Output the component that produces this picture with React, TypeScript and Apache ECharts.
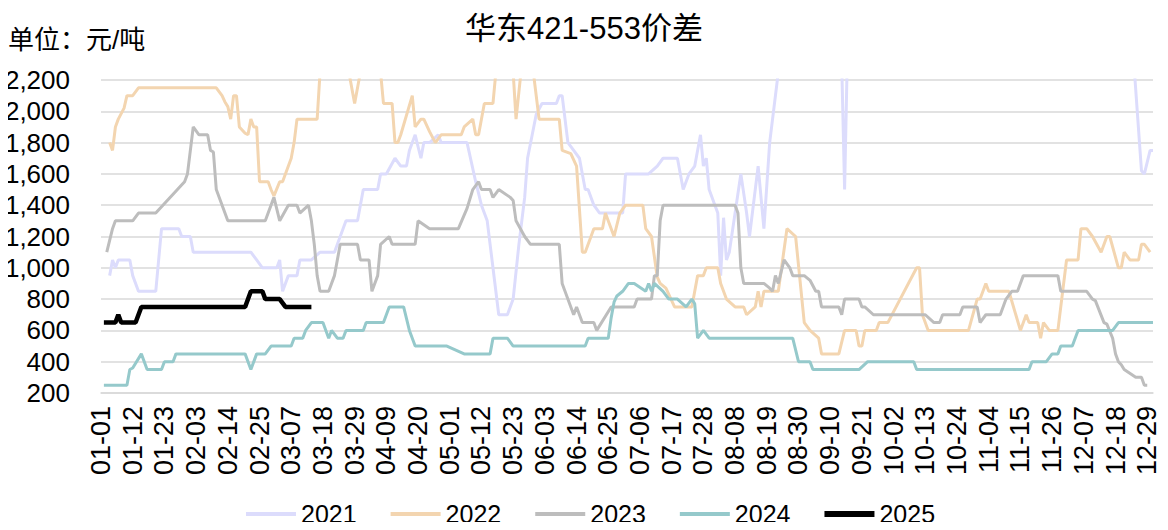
import React, { useEffect, useRef } from "react";
import * as echarts from "echarts";

const TITLE = "华东421-553价差";
const UNIT = "单位：元/吨";

// leap-year calendar of the x axis (labels MM-DD)
const monthDays = [31, 29, 31, 30, 31, 30, 31, 31, 30, 31, 30, 31];
const categories: string[] = [];
monthDays.forEach((n, m) => {
  for (let d = 1; d <= n; d++) {
    categories.push(`${String(m + 1).padStart(2, "0")}-${String(d).padStart(2, "0")}`);
  }
});

const yMin = 200;
const yMax = 2200;
const yStep = 200;

const seriesNames = ["2021", "2022", "2023", "2024", "2025"];

const s2021: [string, number][] = [
  ["01-04", 950], ["01-05", 1050], ["01-06", 1000], ["01-07", 1050], ["01-11", 1050], ["01-12", 950],
  ["01-14", 850], ["01-20", 850], ["01-22", 1250], ["01-28", 1250], ["01-29", 1200], ["02-01", 1200],
  ["02-02", 1100], ["02-22", 1100], ["02-24", 1050], ["02-26", 1000], ["03-02", 1000], ["03-03", 1050],
  ["03-04", 850], ["03-06", 950], ["03-09", 950], ["03-10", 1050], ["03-14", 1050], ["03-17", 1100],
  ["03-22", 1100], ["03-26", 1300], ["03-30", 1300], ["04-01", 1500], ["04-06", 1500], ["04-07", 1600],
  ["04-09", 1600], ["04-12", 1700], ["04-14", 1650], ["04-16", 1650], ["04-17", 1750], ["04-19", 1850],
  ["04-21", 1700], ["04-22", 1800], ["04-24", 1800], ["04-27", 1850], ["04-28", 1800], ["05-07", 1800],
  ["05-10", 1550], ["05-12", 1400], ["05-14", 1300], ["05-18", 700], ["05-21", 700], ["05-23", 800],
  ["05-25", 1150], ["05-27", 1450], ["05-28", 1700], ["05-31", 1980], ["06-02", 2050], ["06-07", 2050],
  ["06-08", 2100], ["06-09", 2100], ["06-11", 1800], ["06-13", 1750], ["06-15", 1700], ["06-17", 1500],
  ["06-18", 1500], ["06-20", 1400], ["06-22", 1350], ["06-30", 1350], ["07-01", 1600], ["07-09", 1600],
  ["07-12", 1650], ["07-14", 1700], ["07-19", 1700], ["07-21", 1500], ["07-23", 1600], ["07-25", 1650],
  ["07-27", 1850], ["07-28", 1650], ["07-29", 1700], ["07-30", 1500], ["08-01", 1400], ["08-02", 1350],
  ["08-03", 950], ["08-04", 1320], ["08-05", 1050], ["08-06", 1100], ["08-08", 1350], ["08-10", 1600],
  ["08-12", 1350], ["08-13", 1200], ["08-16", 1650], ["08-18", 1250], ["08-20", 1800], ["08-23", 2250],
  ["08-25", 2400], ["09-07", 2500], ["09-14", 2300], ["09-15", 1500], ["09-16", 2400], ["10-07", 2500],
  ["11-26", 2500], ["12-24", 2400], ["12-27", 1620], ["12-28", 1600], ["12-30", 1750], ["12-31", 1750],
];

const s2022: [string, number][] = [
  ["01-04", 1800], ["01-05", 1750], ["01-06", 1900], ["01-07", 1950], ["01-09", 2020], ["01-10", 2100],
  ["01-12", 2100], ["01-14", 2150], ["02-10", 2150], ["02-12", 2100], ["02-13", 2060], ["02-14", 2030],
  ["02-15", 1950], ["02-16", 2100], ["02-17", 2100], ["02-18", 1900], ["02-20", 1860], ["02-21", 1850],
  ["02-22", 1950], ["02-23", 1900], ["02-24", 1900], ["02-25", 1550], ["02-28", 1550], ["02-29", 1500],
  ["03-01", 1460], ["03-03", 1550], ["03-04", 1550], ["03-07", 1700], ["03-08", 1800], ["03-09", 1950],
  ["03-16", 1950], ["03-17", 2250], ["03-21", 2400], ["03-27", 2250], ["03-29", 2050], ["03-31", 2250],
  ["04-03", 2400], ["04-07", 2250], ["04-08", 2050], ["04-11", 2050], ["04-12", 1800], ["04-13", 1800],
  ["04-14", 1850], ["04-18", 2100], ["04-19", 1900], ["04-21", 1950], ["04-22", 1950], ["04-24", 1870],
  ["04-26", 1800], ["04-28", 1850], ["05-05", 1850], ["05-06", 1900], ["05-09", 1950], ["05-10", 1850],
  ["05-11", 1850], ["05-13", 2050], ["05-16", 2050], ["05-17", 2250], ["05-20", 2400], ["05-23", 2250],
  ["05-24", 1950], ["05-26", 2300], ["05-29", 2400], ["05-30", 2250], ["06-01", 1950], ["06-08", 1950],
  ["06-09", 1750], ["06-12", 1730], ["06-14", 1650], ["06-16", 1100], ["06-17", 1100], ["06-20", 1250],
  ["06-23", 1250], ["06-24", 1350], ["06-27", 1200], ["06-29", 1350], ["07-01", 1400], ["07-07", 1400],
  ["07-08", 1250], ["07-10", 1200], ["07-12", 940], ["07-13", 900], ["07-15", 870], ["07-18", 750],
  ["07-24", 750], ["07-26", 950], ["07-28", 950], ["07-29", 1000], ["08-02", 1000], ["08-03", 900],
  ["08-05", 800], ["08-08", 750], ["08-11", 750], ["08-12", 700], ["08-15", 750], ["08-16", 850],
  ["08-17", 750], ["08-18", 850], ["08-23", 850], ["08-26", 1250], ["08-29", 1200], ["09-01", 650],
  ["09-03", 600], ["09-06", 550], ["09-07", 450], ["09-13", 450], ["09-15", 600], ["09-19", 600],
  ["09-20", 500], ["09-21", 500], ["09-22", 600], ["09-26", 600], ["09-27", 650], ["09-30", 650],
  ["10-10", 1000], ["10-11", 1000], ["10-12", 700], ["10-14", 600], ["10-28", 600], ["10-31", 800],
  ["11-01", 800], ["11-03", 900], ["11-04", 850], ["11-11", 850], ["11-15", 600], ["11-17", 700],
  ["11-18", 650], ["11-21", 650], ["11-22", 550], ["11-23", 650], ["11-25", 600], ["11-28", 600],
  ["12-01", 1050], ["12-05", 1050], ["12-06", 1250], ["12-08", 1250], ["12-10", 1200], ["12-13", 1100],
  ["12-15", 1200], ["12-16", 1200], ["12-19", 1000], ["12-20", 1000], ["12-21", 1100], ["12-23", 1050],
  ["12-26", 1050], ["12-27", 1150], ["12-28", 1150], ["12-30", 1100],
];

const s2023: [string, number][] = [
  ["01-03", 1100], ["01-05", 1250], ["01-06", 1300], ["01-12", 1300], ["01-14", 1350], ["01-20", 1350],
  ["01-30", 1550], ["01-31", 1600], ["02-02", 1900], ["02-04", 1850], ["02-07", 1850], ["02-08", 1750],
  ["02-09", 1740], ["02-10", 1500], ["02-14", 1300], ["02-27", 1300], ["03-01", 1450], ["03-03", 1300],
  ["03-06", 1400], ["03-09", 1400], ["03-10", 1350], ["03-13", 1400], ["03-14", 1300], ["03-15", 1150],
  ["03-16", 950], ["03-17", 850], ["03-20", 850], ["03-22", 950], ["03-24", 1150], ["03-30", 1150],
  ["03-31", 1050], ["04-03", 1050], ["04-04", 850], ["04-06", 950], ["04-07", 1150], ["04-10", 1200],
  ["04-11", 1150], ["04-19", 1150], ["04-20", 1300], ["04-24", 1250], ["05-04", 1250], ["05-07", 1380],
  ["05-09", 1500], ["05-11", 1550], ["05-12", 1500], ["05-15", 1500], ["05-16", 1450], ["05-18", 1500],
  ["05-22", 1450], ["05-23", 1430], ["05-24", 1300], ["05-27", 1200], ["05-29", 1150], ["06-08", 1150],
  ["06-09", 900], ["06-13", 700], ["06-14", 750], ["06-16", 650], ["06-20", 650], ["06-21", 600],
  ["06-26", 750], ["07-04", 750], ["07-05", 800], ["07-10", 800], ["07-11", 950], ["07-12", 950],
  ["07-13", 1300], ["07-14", 1400], ["08-08", 1400], ["08-09", 1350], ["08-10", 1000], ["08-11", 900],
  ["08-18", 900], ["08-20", 870], ["08-21", 850], ["08-22", 950], ["08-23", 900], ["08-25", 1050],
  ["08-27", 1000], ["08-28", 950], ["09-01", 950], ["09-03", 920], ["09-05", 850], ["09-06", 850],
  ["09-07", 750], ["09-13", 750], ["09-14", 700], ["09-15", 800], ["09-20", 800], ["09-21", 750],
  ["09-22", 750], ["09-25", 700], ["10-13", 700], ["10-16", 650], ["10-18", 650], ["10-19", 700],
  ["10-25", 700], ["10-26", 750], ["10-31", 750], ["11-01", 650], ["11-03", 700], ["11-08", 700],
  ["11-10", 800], ["11-12", 850], ["11-14", 850], ["11-16", 950], ["11-28", 950], ["11-29", 850],
  ["12-08", 850], ["12-10", 800], ["12-11", 790], ["12-14", 650], ["12-15", 640], ["12-17", 550],
  ["12-18", 450], ["12-19", 400], ["12-20", 380], ["12-21", 350], ["12-25", 300], ["12-27", 300],
  ["12-28", 250], ["12-29", 250],
];

const s2024: [string, number][] = [
  ["01-02", 250], ["01-10", 250], ["01-11", 350], ["01-12", 360], ["01-15", 450], ["01-17", 350],
  ["01-22", 350], ["01-23", 400], ["01-26", 400], ["01-27", 450], ["02-20", 450], ["02-22", 350],
  ["02-24", 450], ["02-27", 450], ["02-29", 500], ["03-07", 500], ["03-08", 550], ["03-11", 550],
  ["03-12", 600], ["03-14", 650], ["03-18", 650], ["03-20", 550], ["03-21", 600], ["03-23", 550],
  ["03-25", 550], ["03-26", 600], ["04-01", 600], ["04-02", 650], ["04-08", 650], ["04-10", 750],
  ["04-15", 750], ["04-17", 600], ["04-19", 500], ["04-30", 500], ["05-06", 450], ["05-15", 450],
  ["05-16", 550], ["05-21", 550], ["05-23", 500], ["06-17", 500], ["06-18", 550], ["06-25", 550],
  ["06-26", 680], ["06-27", 780], ["06-28", 820], ["06-30", 850], ["07-02", 900], ["07-04", 900],
  ["07-08", 850], ["07-09", 900], ["07-10", 850], ["07-11", 900], ["07-14", 850], ["07-16", 800],
  ["07-19", 800], ["07-22", 750], ["07-24", 800], ["07-25", 770], ["07-26", 550], ["07-28", 600],
  ["07-30", 550], ["08-28", 550], ["08-30", 400], ["09-03", 400], ["09-04", 350], ["09-20", 350],
  ["09-23", 400], ["10-09", 400], ["10-10", 350], ["11-18", 350], ["11-19", 400], ["11-24", 400],
  ["11-26", 450], ["11-28", 450], ["11-29", 500], ["12-03", 500], ["12-05", 600], ["12-17", 600],
  ["12-19", 650], ["12-31", 650],
];

const s2025: [string, number][] = [
  ["01-02", 650], ["01-06", 650], ["01-07", 700], ["01-08", 650], ["01-13", 650], ["01-15", 750],
  ["02-20", 750], ["02-22", 850], ["02-26", 850], ["02-27", 800], ["03-03", 800], ["03-05", 750],
  ["03-14", 750],
];

const seriesData = [s2021, s2022, s2023, s2024, s2025];
const seriesColors = ["#DCDCFC", "#F3D5B0", "#BDBDBD", "#95C9CB", "#000000"];
const seriesWidths = [3, 3, 3, 3, 4.5];
const legendIcons = [
  "path://M0,0H50V4H0Z",
  "path://M0,0H50V4H0Z",
  "path://M0,0H50V4H0Z",
  "path://M0,0H50V4H0Z",
  "path://M0,0H50V6H0Z",
];

const FONT = "'Liberation Sans', Arial, 'Noto Sans CJK SC', sans-serif";

export default function App() {
  const ref = useRef<HTMLDivElement>(null);
  useEffect(() => {
    if (!ref.current) return;
    const chart = echarts.init(ref.current, undefined, { renderer: "svg" });
    chart.setOption({
      animation: false,
      backgroundColor: "#ffffff",
      textStyle: { fontFamily: FONT },
      title: {
        text: TITLE,
        left: "center",
        top: 8,
        textStyle: { fontSize: 31, fontWeight: "normal", color: "#000", fontFamily: FONT },
      },
      graphic: [
        {
          type: "text",
          left: 8,
          top: 27,
          style: { text: UNIT, fill: "#000", font: `26px ${FONT}` },
        },
      ],
      legend: {
        data: seriesNames.map((name, i) => ({ name, icon: legendIcons[i] })),
        top: 501,
        left: 246,
        itemWidth: 50,
        itemHeight: 14,
        itemGap: 34,
        padding: 0,
        textStyle: { fontSize: 25, lineHeight: 26, color: "#000", fontFamily: FONT },
      },
      grid: { left: 101, right: 15, top: 80, bottom: 137, containLabel: false },
      xAxis: {
        type: "category",
        data: categories,
        boundaryGap: false,
        axisLine: { show: true, lineStyle: { color: "#D9D9D9", width: 1.5 } },
        axisTick: { show: false },
        axisLabel: {
          interval: 10,
          rotate: 90,
          fontSize: 27,
          color: "#000",
          margin: 13,
          fontFamily: FONT,
        },
        splitLine: { show: false },
      },
      yAxis: {
        type: "value",
        min: yMin,
        max: yMax,
        interval: yStep,
        axisLine: { show: false },
        axisTick: { show: false },
        axisLabel: {
          fontSize: 26,
          color: "#000",
          margin: 31,
          fontFamily: FONT,
          formatter: (v: number) => v.toLocaleString("en-US"),
        },
        splitLine: { lineStyle: { color: "#D9D9D9", width: 1.5 } },
      },
      series: seriesNames.map((name, i) => ({
        name,
        type: "line",
        data: seriesData[i],
        symbol: "none",
        showSymbol: false,
        clip: true,
        z: 2 + i,
        lineStyle: { color: seriesColors[i], width: seriesWidths[i] },
        itemStyle: { color: seriesColors[i] },
      })),
    });
    return () => chart.dispose();
  }, []);
  return <div ref={ref} style={{ width: 1168, height: 530, margin: -8 }} />;
}
